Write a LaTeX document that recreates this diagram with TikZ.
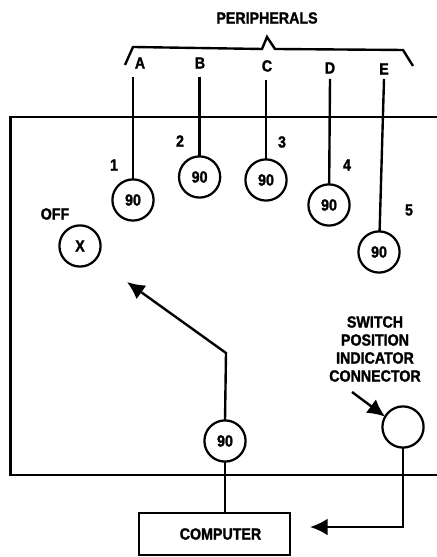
\documentclass[tikz,border=0pt]{standalone}
\usepackage{fontspec}
\setmainfont[FakeStretch=0.88,BoldFeatures={FakeBold=1.5}]{Liberation Sans}
\usetikzlibrary{arrows.meta}
\tikzset{
  wire/.style={line width=1.7pt, line join=miter},
  arrowline/.style={wire, -{Latex[length=4.4mm,width=4.2mm]}},
  dial/.style={draw, circle, line width=1.6pt, minimum size=1.03cm, inner sep=0pt, outer sep=0pt},
  tag/.style={inner sep=0pt, align=center},
}
\begin{document}
\begin{tikzpicture}[font=\fontsize{11.5}{12.8}\selectfont\bfseries]
\useasboundingbox (0,0) rectangle (10.925,13.925);
\node[tag] (peripherals) at (6.675,13.475) {PERIPHERALS};
\node[tag] (la) at (3.5,12.35) {A};
\node[tag] (lb) at (5.0,12.35) {B};
\node[tag] (lc) at (6.675,12.275) {C};
\node[tag] (ld) at (8.25,12.225) {D};
\node[tag] (le) at (9.6,12.2) {E};
\coordinate (ta) at (3.325,12.0);
\coordinate (tb) at (4.99,12.0);
\coordinate (tc) at (6.65,11.925);
\coordinate (td) at (8.25,11.95);
\coordinate (te) at (9.6,11.95);
\node[dial] (a) at (3.325,8.925) {90};
\node[dial] (b) at (4.99,9.5) {90};
\node[dial] (c) at (6.65,9.425) {90};
\node[dial] (d) at (8.225,8.8) {90};
\node[dial] (e) at (9.475,7.625) {90};
\node[dial] (off) at (2.0,7.775) {X};
\node[tag] (n1) at (2.85,9.8) {1};
\node[tag] (n2) at (4.5,10.4) {2};
\node[tag] (n3) at (7.05,10.375) {3};
\node[tag] (n4) at (8.675,9.8) {4};
\node[tag] (n5) at (10.225,8.675) {5};
\node[tag] (loff) at (1.375,8.575) {OFF};
\node[dial] (wiper) at (5.625,2.9) {90};
\node[dial] (indicator) at (10.075,3.25) {};
\node[draw, line width=1.6pt, minimum width=3.775cm, minimum height=1.05cm, inner sep=0pt] (computer) at (5.3625,0.575) {\hspace*{0.3cm}COMPUTER};
\node[tag] (lswitch) at (9.375,5.2) {SWITCH\\POSITION\\INDICATOR\\CONNECTOR};
\coordinate (bend) at (5.65,5.1);
\coordinate (tip) at (3.175,6.875);
\coordinate (cin) at (7.75,0.75);
\coordinate (lead) at (8.8,4.125);
% brace
\draw[wire] (3.125,12.3) -- (3.325,12.75) -- (6.55,12.7) -- (6.675,13.0) -- (6.875,12.7) -- (10.075,12.675) -- (10.325,12.275);
% case
\draw[wire] (10.925,11) -- (0.2625,11) -- (0.2625,2.05) -- (10.925,2.05);
\draw[wire] (ta) -- (a);
\draw[wire] (tb) -- (b);
\draw[wire] (tc) -- (c);
\draw[wire] (td) -- (d);
\draw[wire] (te) -- (e);
\draw[arrowline] (wiper.north) -- (bend) -- (tip);
\draw[wire] (wiper.south) -- (wiper.south |- computer.north);
\draw[arrowline] (indicator.south) |- (cin);
\draw[arrowline] (lead) -- (indicator.150);
\end{tikzpicture}
\end{document}
